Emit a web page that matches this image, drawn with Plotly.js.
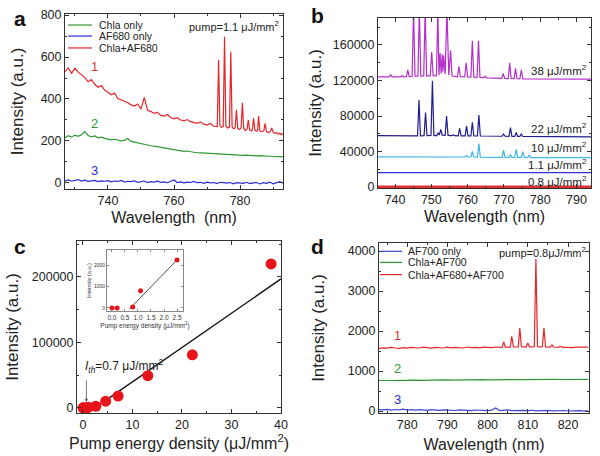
<!DOCTYPE html>
<html><head><meta charset="utf-8">
<script src="https://cdn.plot.ly/plotly-3.0.1.min.js"></script>
<style>html,body{margin:0;padding:0;background:#fff}#chart{width:600px;height:456px}</style>
</head><body><div id="chart"></div>
<script>
// ---------- Panel a ----------
const aWave = [727,728,729,730,731,732,733,734,735,736,737,738,739,740,741,742,743,744,745,746,747,748,749,750,751,752,753,754,755,756,757,758,759,760,761,762,763,764,765,766,767,768,769,770,771,772,773,774,775,776,777,778,779,780,781,782,783,784,785,786,787,788,789,790,791,792,793];
const aGreen = [215,225,218,228,222,230,245,226,220,224,215,218,212,210,205,208,204,200,203,212,198,194,190,186,184,180,177,175,172,168,166,163,160,158,155,153,150,152,148,146,144,143,141,140,139,138,137,136,135,136,134,133,134,132,131,132,130,131,129,130,128,129,127,126,127,125,124];
const aBlue = [10,14,8,12,16,9,13,7,11,12,6,10,8,11,5,9,7,12,4,8,6,10,3,7,9,2,6,4,8,3,5,1,6,14,2,5,0,4,2,7,1,3,-2,4,0,2,-3,3,1,-1,2,-4,1,0,-2,3,-3,0,2,-5,1,-2,4,-4,0,6,-1];
const aRedWave = [727,728,729,730,731,732,733,734,735,736,737,738,739,740,741,742,743,744,745,746,747,748,749,750,751,752,753,754,755,756,757,758,759,760,761,762,763,764,765,766,767,768,769,770,771,772,
  773.1,773.5,773.9,774.4,774.9,775.3,775.7,776.2,776.8,777.2,777.6,778.1,778.5,778.9,779.3,779.8,780.3,780.7,781.1,781.6,782.1,782.5,782.9,783.4,783.7,784.1,784.5,785.0,785.3,785.6,786.0,786.6,787.2,787.6,788.0,788.6,789.2,789.6,790.0,790.5,791,791.5,792,792.5,793];
const aRed = [530,548,522,546,528,515,502,482,492,470,456,464,442,432,420,428,402,396,390,382,372,366,376,352,408,346,340,332,336,322,318,326,312,305,311,300,296,302,292,288,284,291,280,276,283,270,
  268,586,272,265,268,697,270,262,266,625,266,258,262,348,260,255,262,382,258,250,256,300,254,248,252,308,250,246,250,319,248,244,248,284,244,240,246,262,242,236,240,232,238,230,236];
const aNames = ['Chla only','AF680 only','Chla+AF680'];

// ---------- Panel b ----------
const bRedWave = [735, 795];
const bRed = [0, 0];
const bBlueWave = [735, 795];
const bBlue = [16300, 16300];
const bCyanWave = [735,759.3,759.7,760.1,760.9,761.3,761.7,762.7,763.1,763.5,769.5,769.9,770.3,771.4,771.8,772.2,773.0,773.4,773.8,774.8,775.2,775.6,776.6,777.0,777.4,795];
const bCyan = [34000,33800,35500,33800,33800,40000,33800,33700,49000,33700,33500,41700,33500,33500,36500,33400,33400,42500,33400,33300,39800,33300,33300,36000,33200,33000];
const bNavyWave = [735,746.2,746.6,747.0,748.0,748.4,748.8,749.9,750.3,750.7,751.5,751.9,752.2,752.6,753.0,753.8,754.2,754.6,755.6,756.0,756.4,757.4,757.8,758.2,759.3,759.7,760.1,760.9,761.3,761.7,762.7,763.1,763.5,769.5,769.9,770.3,771.4,771.8,772.2,773.0,773.4,773.8,774.4,774.8,775.2,795];
const bNavy = [57800,57700,98000,57700,57800,84000,57800,58000,119800,58000,58000,61000,58500,65000,58500,58200,80000,58200,57800,59000,57800,57700,66000,57700,57600,68700,57600,57600,73000,57600,57500,81000,57500,57200,59700,57200,57100,66800,57100,57000,61600,57000,57000,60000,57000,56500];
const bPurpleWave = [735,738.4,738.8,739.2,741.6,742.0,742.4,743.1,743.5,743.9,744.7,745.1,745.5,746.3,746.7,747.1,747.9,748.3,748.7,749.7,750.1,750.5,751.4,751.8,752.1,752.4,752.7,753.0,753.2,753.4,753.8,754.3,754.8,755.3,755.7,757.2,757.6,758.0,759.2,759.6,760.0,760.9,761.3,761.7,762.6,763.0,763.4,764.4,764.8,765.2,769.4,769.8,770.2,771.2,771.6,772.0,772.8,773.2,773.6,774.4,774.8,775.2,795];
const bPurple = [124000,124000,126500,124000,124000,125500,124000,124200,132000,124300,124500,200000,124800,125000,200000,125000,125200,200000,125300,125300,152000,125300,125500,200000,126000,151000,128000,149500,130000,148000,127000,200000,126000,154000,125000,124200,136000,124200,124000,140000,124000,123800,164800,123800,123500,164800,123500,123200,125000,123000,122300,128000,122300,122200,140000,122200,122000,133700,122000,121900,132000,121800,121500];
const bLabels = ['38 μJ/mm<sup>2</sup>','22 μJ/mm<sup>2</sup>','10 μJ/mm<sup>2</sup>','1.1 μJ/mm<sup>2</sup>','0.8 μJ/mm<sup>2</sup>'];
const bLabelY = [131800, 66500, 45000, 26500, 7200];

// ---------- Panel c ----------
const cPump = [0, 0.2, 0.8, 1.1, 2.6, 4.6, 7.1, 13.1, 22.1, 38];
const cInt = [0, 0, 100, 850, 2300, 10000, 18000, 49000, 81000, 220000];
const cFitX = [1.1, 40];
const cFitY = [-7000, 197000];
const insetPump = [0, 0.2, 0.8, 1.1, 2.5];
const insetInt = [0, 0, 50, 800, 2230];
const insetFitX = [0.68, 2.55];
const insetFitY = [-40, 2300];

// ---------- Panel d ----------
const dWave = [773,774,775,776,777,778,779,780,781,782,783,784,785,786,787,788,789,790,791,792,793,794,795,796,797,798,799,800,801,802,803,804,805,806,807,808,809,810,811,812,813,814,815,816,817,818,819,820,821,822,823,824,825];
const dGreen = [762,758,765,760,763,768,762,766,770,765,768,772,767,770,774,769,772,776,771,774,778,773,776,780,775,778,782,777,780,784,779,782,786,781,784,788,783,786,789,785,788,791,786,789,792,787,790,793,788,791,794,789,792];
const dBlue = [35,28,40,22,38,30,45,25,33,20,36,28,18,32,24,15,30,20,26,12,28,18,22,10,25,15,20,8,22,75,12,18,30,10,16,5,14,8,18,4,12,6,15,2,10,5,12,0,8,3,10,-2,5];
const dRedWave = [773,774,775,776,777,778,779,780,781,782,783,784,785,786,787,788,789,790,791,792,793,794,795,796,797,798,799,800,801,802,803,
  803.6,804,804.4,805.6,806,806.4,807.6,808,808.4,809.6,810,810.4,811.6,812,812.4,813.6,814,814.4,815.6,816,816.4,817.6,818,818.4,
  819,820,821,822,823,824,825];
const dRed = [1560,1580,1570,1590,1575,1565,1585,1570,1590,1580,1575,1595,1580,1570,1590,1585,1575,1595,1580,1590,1585,1575,1600,1585,1590,1580,1595,1590,1585,1600,1590,
  1590,1725,1595,1595,1866,1600,1600,2075,1610,1600,1700,1605,1610,3800,1610,1605,2075,1600,1595,1650,1600,1590,1620,1595,
  1590,1600,1585,1595,1590,1600,1595];
const dNames = ['AF700 only','Chla+AF700','Chla+AF680+AF700'];

// ---------- colours / fonts ----------
const RED='#e6262a', GREEN='#2f9a34', BLUE='#2a2ad2';
const FN = '"Liberation Sans", Arial, sans-serif';
const FR = '"Liberation Sans", Arial, sans-serif';

function axis(extra){
  return Object.assign({showline:true, mirror:'ticks', linecolor:'#333', linewidth:1,
    ticks:'inside', ticklen:4, tickcolor:'#333', showgrid:false, zeroline:false,
    tickfont:{family:FN,size:12.5,color:'#222'}}, extra);
}
function ln(x,y,color,xa,ya,w){return {type:'scatter',mode:'lines',x:x,y:y,xaxis:xa,yaxis:ya,line:{color:color,width:w||1.2},showlegend:false,hoverinfo:'skip'};}

const traces = [
  ln(aWave,aGreen,GREEN,'x','y'),
  ln(aWave,aBlue,BLUE,'x','y'),
  ln(aRedWave,aRed,RED,'x','y'),
  ln(bPurpleWave,bPurple,'#b52fca','x2','y2'),
  ln(bNavyWave,bNavy,'#1e1e8e','x2','y2'),
  ln(bCyanWave,bCyan,'#41b6e6','x2','y2'),
  ln(bBlueWave,bBlue,'#3434d6','x2','y2'),
  ln(bRedWave,bRed,'#e03030','x2','y2',3),
  ln(cFitX,cFitY,'#111','x3','y3',1.4),
  {type:'scatter',mode:'markers',x:cPump,y:cInt,xaxis:'x3',yaxis:'y3',marker:{color:'#e8141a',size:11},showlegend:false,hoverinfo:'skip'},
  ln(dWave,dBlue,'#3a48cc','x4','y4'),
  ln(dWave,dGreen,GREEN,'x4','y4'),
  ln(dRedWave,dRed,RED,'x4','y4'),
  ln(insetFitX,insetFitY,'#222','x5','y5',0.8),
  {type:'scatter',mode:'markers',x:insetPump,y:insetInt,xaxis:'x5',yaxis:'y5',marker:{color:'#e8141a',size:5},showlegend:false,hoverinfo:'skip'}
];

const shapes = [];
const annotations = [];
const LF = {family:FN,size:10.5,color:'#222'};
// legend panel a
const aLegColors=[GREEN,BLUE,RED], aLegY=[0.937,0.874,0.806];
aNames.forEach((n,i)=>{
  shapes.push({type:'line',xref:'x domain',yref:'y domain',x0:0.014,x1:0.124,y0:aLegY[i],y1:aLegY[i],line:{color:aLegColors[i],width:1.2}});
  annotations.push({xref:'x domain',yref:'y domain',x:0.147,y:aLegY[i],xanchor:'left',yanchor:'middle',text:n,showarrow:false,font:LF});
});
// legend panel d
const dLegColors=['#3a48cc',GREEN,RED], dLegY=[0.951,0.886,0.814];
dNames.forEach((n,i)=>{
  shapes.push({type:'line',xref:'x4 domain',yref:'y4 domain',x0:0.005,x1:0.110,y0:dLegY[i],y1:dLegY[i],line:{color:dLegColors[i],width:1.2}});
  annotations.push({xref:'x4 domain',yref:'y4 domain',x:0.129,y:dLegY[i],xanchor:'left',yanchor:'middle',text:n,showarrow:false,font:LF});
});
annotations.push({xref:'x domain',yref:'y domain',x:0.99,y:0.93,xanchor:'right',yanchor:'middle',text:'pump=1.1 μJ/mm<sup>2</sup>',showarrow:false,font:{family:FN,size:11,color:'#222'}});
annotations.push({xref:'x4 domain',yref:'y4 domain',x:0.995,y:0.95,xanchor:'right',yanchor:'middle',text:'pump=0.8μJ/mm<sup>2</sup>',showarrow:false,font:{family:FN,size:11,color:'#222'}});
// curve numbers
[['1',554,'#d23a3a'],['2',284,GREEN],['3',58,BLUE]].forEach(t=>annotations.push({xref:'x',yref:'y',x:735.9,y:t[1],text:t[0],showarrow:false,font:{family:FN,size:13,color:t[2]}}));
[['1',1890,'#d23a3a'],['2',1060,GREEN],['3',300,BLUE]].forEach(t=>annotations.push({xref:'x4',yref:'y4',x:777.6,y:t[1],text:t[0],showarrow:false,font:{family:FN,size:13,color:t[2]}}));
// panel b labels
bLabels.forEach((t,i)=>annotations.push({xref:'x2 domain',yref:'y2',x:0.99,y:bLabelY[i],xanchor:'right',yanchor:'middle',text:t,showarrow:false,font:{family:FN,size:11.5,color:'#222'}}));
// panel c threshold
annotations.push({xref:'x3',yref:'y3',x:0,y:64000,xanchor:'left',yanchor:'middle',text:'<i>I</i><sub><i>th</i></sub>=0.7 μJ/mm<sup>2</sup>',showarrow:false,font:{family:FN,size:12,color:'#222'}});
annotations.push({xref:'x3',yref:'y3',x:0.7,y:9000,ax:0,ay:-30,text:' ',showarrow:true,arrowhead:2,arrowsize:0.8,arrowwidth:0.8,arrowcolor:'#555'});
// panel letters
[['a',20,18],['b',317,15],['c',20,247],['d',317,246]].forEach(t=>annotations.push({xref:'paper',yref:'paper',x:t[1]/600,y:1-t[2]/456,xanchor:'center',yanchor:'middle',text:'<b>'+t[0]+'</b>',showarrow:false,font:{family:FR,size:21,color:'#111'}}));

const XT = {family:FN,size:16,color:'#222'};
const YT = {family:FR,size:17,color:'#222'};
const layout = {
  width:600,height:456,margin:{l:0,r:0,t:0,b:0},paper_bgcolor:'#fff',plot_bgcolor:'#fff',showlegend:false,
  font:{family:FN,color:'#222'},
  xaxis: axis({domain:[65/600,283/600],anchor:'y',range:[727,793],dtick:20,tick0:0,minor:{dtick:10,ticks:'inside',ticklen:2,tickcolor:'#333'},title:{text:'Wavelength  (nm)',font:XT,standoff:4}}),
  yaxis: axis({domain:[1-189/456,1-14/456],anchor:'x',range:[-29,805],dtick:200,minor:{dtick:100,ticks:'inside',ticklen:2,tickcolor:'#333'},title:{text:'Intensity (a.u.)',font:YT,standoff:12}}),
  xaxis2: axis({domain:[378/600,591/600],anchor:'y2',range:[735.3,794],dtick:10,tick0:0,minor:{dtick:5,ticks:'inside',ticklen:2,tickcolor:'#333'},title:{text:'Wavelength (nm)',font:XT,standoff:4}}),
  yaxis2: axis({domain:[1-188/456,1-18/456],anchor:'x2',range:[-1100,190400],dtick:40000,tickformat:'d',minor:{dtick:20000,ticks:'inside',ticklen:2,tickcolor:'#333'},title:{text:'Intensity (a.u.)',font:YT,standoff:6}}),
  xaxis3: axis({domain:[77/600,281/600],anchor:'y3',range:[-1.2,40],dtick:10,tick0:0,minor:{dtick:5,ticks:'inside',ticklen:2,tickcolor:'#333'},title:{text:'Pump energy density (μJ/mm<sup>2</sup>)',font:XT,standoff:5}}),
  yaxis3: axis({domain:[1-413/456,1-241/456],anchor:'x3',range:[-8000,255000],dtick:100000,tickformat:'d',minor:{dtick:50000,ticks:'inside',ticklen:2,tickcolor:'#333'},title:{text:'Intensity (a.u.)',font:YT,standoff:8}}),
  xaxis4: axis({domain:[379/600,589/600],anchor:'y4',range:[773,825.2],dtick:10,tick0:0,minor:{dtick:5,ticks:'inside',ticklen:2,tickcolor:'#333'},title:{text:'Wavelength (nm)',font:XT,standoff:7}}),
  yaxis4: axis({domain:[1-413/456,1-243/456],anchor:'x4',range:[-50,4200],dtick:1000,minor:{dtick:500,ticks:'inside',ticklen:2,tickcolor:'#333'},title:{text:'Intensity (a.u.)',font:YT,standoff:18}}),
  xaxis5: axis({domain:[107/600,183/600],anchor:'y5',range:[-0.19,2.73],dtick:0.5,tick0:0,tickformat:'.1f',linecolor:'#888',tickcolor:'#888',ticklen:2,tickfont:{family:FN,size:6.5,color:'#333'},title:{text:'Pump energy density (μJ/mm<sup>2</sup>)',font:{family:FN,size:6.5,color:'#333'},standoff:1}}),
  yaxis5: axis({domain:[1-311/456,1-250/456],anchor:'x5',range:[-140,2700],dtick:1000,linecolor:'#888',tickcolor:'#888',ticklen:2,tickfont:{family:FN,size:5,color:'#333'},title:{text:'Intensity (a.u.)',font:{family:FN,size:5.5,color:'#333'},standoff:1}}),
  shapes:shapes, annotations:annotations
};
Plotly.newPlot('chart', traces, layout, {staticPlot:true});
</script></body></html>
